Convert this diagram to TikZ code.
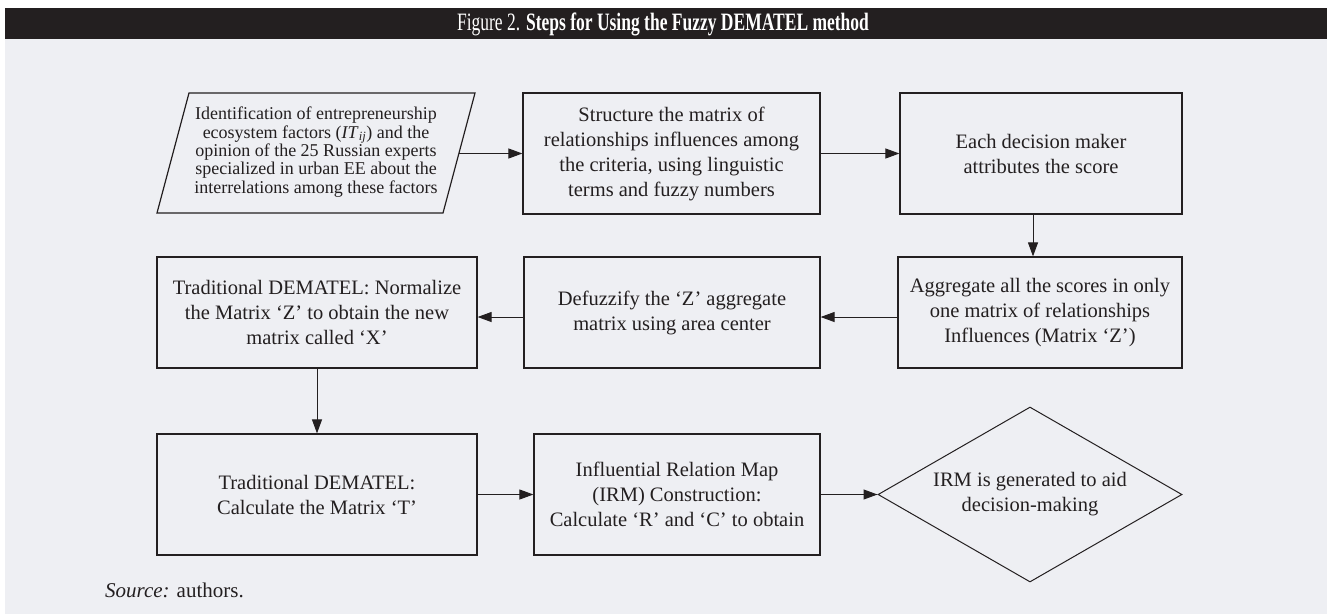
\documentclass[tikz,border=0pt]{standalone}
\usepackage{fontspec}
\setmainfont{Liberation Serif}
\usetikzlibrary{arrows.meta,shapes.geometric}
\definecolor{ink}{HTML}{231F20}
\definecolor{panel}{HTML}{EEEFF3}
\begin{document}
\begin{tikzpicture}[x=1pt,y=-1pt,
  flow/.style={draw=ink, line width=1.2pt, text=ink, align=center, inner sep=0pt,
               font=\fontsize{20.5}{25}\selectfont},
  link/.style={draw=ink, line width=1pt, -{Triangle[length=14pt,width=10pt]}},
]
\useasboundingbox (0,0) rectangle (1327,614);
% page, caption bar and panel
\fill[white] (0,0) rectangle (1327,614);
\fill[panel] (5,39) rectangle (1327,614);
\fill[ink] (5,8) rectangle (1327,39);
\node[text=white, xscale=0.7, font=\fontsize{25}{28}\selectfont] (title) at (663,24)
  {Figure 2. \textbf{Steps for Using the Fuzzy DEMATEL method}};

% input step (parallelogram)
\draw[ink, line width=1.2pt] (189,93) -- (475,93) -- (443,213) -- (157,213) -- cycle;
\node[text=ink, align=center, inner sep=0pt, font=\fontsize{18}{18.3}\selectfont] (ident) at (316,152)
  {Identification of entrepreneurship\\
   ecosystem factors (\textit{IT}\textsubscript{\textit{ij}}) and the\\
   opinion of the 25 Russian experts\\
   specialized in urban EE about the\\
   interrelations among these factors};
\coordinate (identout) at (459,153.5);

% first row
\node[flow, minimum width=297pt, minimum height=121pt] (struct) at (671.5,153.5)
  {Structure the matrix of\\relationships influences among\\the criteria, using linguistic\\terms and fuzzy numbers};
\node[flow, minimum width=282pt, minimum height=121pt] (score) at (1041,153.5)
  {Each decision maker\\attributes the score};

% second row
\node[flow, minimum width=284pt, minimum height=111pt] (aggr) at (1040,312.5)
  {Aggregate all the scores in only\\one matrix of relationships\\Influences (Matrix ‘Z’)};
\node[flow, minimum width=296pt, minimum height=111pt] (defuzz) at (672,312.5)
  {Defuzzify the ‘Z’ aggregate\\matrix using area center};
\node[flow, minimum width=320pt, minimum height=111pt] (norm) at (317,312.5)
  {Traditional DEMATEL: Normalize\\the Matrix ‘Z’ to obtain the new\\matrix called ‘X’};

% third row
\node[flow, minimum width=320pt, minimum height=121pt] (total) at (317,494.5)
  {Traditional DEMATEL:\\Calculate the Matrix ‘T’};
\node[flow, minimum width=286pt, minimum height=121pt] (irmc) at (677,494.5)
  {Influential Relation Map\\(IRM) Construction:\\Calculate ‘R’ and ‘C’ to obtain};
\node[flow, diamond, aspect=1.737, line width=1pt, minimum width=304pt, minimum height=175pt]
  (irm) at (1030,494.5) {IRM is generated to aid\\decision-making};

% connectors
\draw[link] (identout) -- (identout -| struct.west);
\draw[link] (struct.east) -- (score.west);
\draw[link] ([xshift=-8pt]score.south) -- ([xshift=-8pt]score.south |- aggr.north);
\draw[link] ([yshift=-4.5pt]aggr.west) -- ([yshift=-4.5pt]defuzz.east);
\draw[link] ([yshift=-4.5pt]defuzz.west) -- ([yshift=-4.5pt]norm.east);
\draw[link] (norm.south) -- (total.north);
\draw[link] (total.east) -- (irmc.west);
\draw[link] (irmc.east) -- (irm.west);

% source line
\node[anchor=base west, text=ink, inner sep=0pt, font=\fontsize{21}{25}\selectfont] (src) at (105,597)
  {\textit{Source:} authors.};
\end{tikzpicture}
\end{document}
